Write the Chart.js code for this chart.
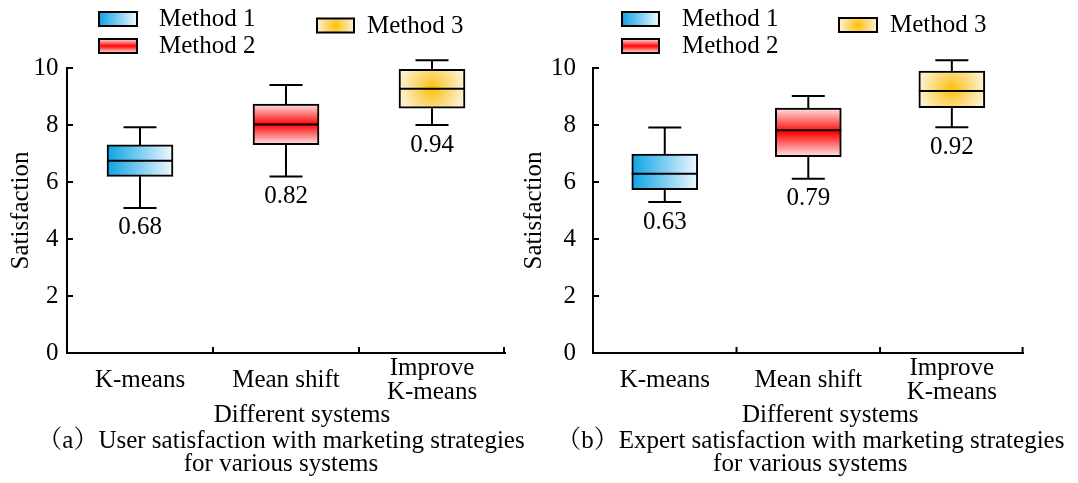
<!DOCTYPE html>
<html>
<head>
<meta charset="utf-8">
<script src="https://cdn.jsdelivr.net/npm/chart.js"></script>
<style>
  html, body { margin: 0; padding: 0; background: #ffffff; }
  #wrap { position: relative; width: 1078px; height: 483px; overflow: hidden; }
  .panel { position: absolute; top: 0; height: 483px; }
  #pa { left: 0; width: 539px; }
  #pb { left: 515px; width: 563px; }
</style>
</head>
<body>
<div id="wrap">
  <div class="panel" id="pa"><canvas id="chartA"></canvas></div>
  <div class="panel" id="pb"><canvas id="chartB"></canvas></div>
</div>
<script>
// Systems compared on the x axis and the legend names of their boxes
const categories = ['K-means', 'Mean shift', ['Improve', 'K-means']];
const methods = ['Method 1', 'Method 2', 'Method 3'];
const xAxisTitle = 'Different systems';
const yAxisTitle = 'Satisfaction';

// (a) user satisfaction: five-number summaries per system
const userMin    = [5.09, 6.19, 8.00];
const userQ1     = [6.20, 7.31, 8.59];
const userMedian = [6.75, 8.02, 9.27];
const userQ3     = [7.30, 8.73, 9.95];
const userMax    = [7.92, 9.40, 10.27];
const userScore  = ['0.68', '0.82', '0.94'];

// (b) expert satisfaction: five-number summaries per system
const expertMin    = [5.30, 6.11, 7.92];
const expertQ1     = [5.73, 6.89, 8.61];
const expertMedian = [6.29, 7.82, 9.19];
const expertQ3     = [6.98, 8.59, 9.89];
const expertMax    = [7.91, 9.02, 10.27];
const expertScore  = ['0.63', '0.79', '0.92'];

const captionA = ['\uFF08a\uFF09User satisfaction with marketing strategies', 'for various systems'];
const captionB = ['\uFF08b\uFF09Expert satisfaction with marketing strategies', 'for various systems'];

const SERIF = "'Liberation Serif', 'Times New Roman', 'Noto Serif CJK SC', 'Noto Sans CJK SC', serif";
const FONT_SIZE = 25;
const BOX_W = 66;
const CAP_W = 33;

// Gradient fill for each method's box / legend swatch
function makeFill(ctx, i, x, y, w, h) {
  let g;
  if (i === 0) {
    g = ctx.createLinearGradient(x, 0, x + w, 0);
    g.addColorStop(0, '#0fa3e4');
    g.addColorStop(0.5, '#7ccdf1');
    g.addColorStop(1, '#f0f9fe');
  } else if (i === 1) {
    g = ctx.createLinearGradient(0, y, 0, y + h);
    g.addColorStop(0, '#fde4e4');
    g.addColorStop(0.5, '#ff0505');
    g.addColorStop(1, '#fde8e8');
  } else {
    const cx = x + w / 2, cy = y + h / 2;
    g = ctx.createRadialGradient(cx, cy, 0, cx, cy, Math.max(w, h) / 2);
    g.addColorStop(0, '#ffbf00');
    g.addColorStop(0.35, '#fcd25a');
    g.addColorStop(1, '#fdf2d2');
  }
  return g;
}

function boxFill(c) {
  if (c.type !== 'data') return '#ffffff';
  const chart = c.chart;
  if (!chart.chartArea) return '#ffffff';
  const i = c.dataIndex, raw = c.raw;
  const xs = chart.scales.x, ys = chart.scales.y;
  const cx = xs.getPixelForValue(i);
  const yTop = ys.getPixelForValue(raw[1]);
  const yBot = ys.getPixelForValue(raw[0]);
  if (![cx, yTop, yBot].every(Number.isFinite)) return '#ffffff';
  return makeFill(chart.ctx, i, cx - BOX_W / 2, yTop, BOX_W, yBot - yTop);
}

function line(ctx, x1, y1, x2, y2) {
  ctx.beginPath();
  ctx.moveTo(x1, y1);
  ctx.lineTo(x2, y2);
  ctx.stroke();
}

// Whiskers, medians, score labels, inward ticks, legend, axis title and caption
function boxPlotPlugin(cfg) {
  return {
    id: 'boxPlotExtras',
    afterDatasetsDraw(chart) {
      const ctx = chart.ctx;
      const ys = chart.scales.y;
      const meta = chart.getDatasetMeta(0);
      ctx.save();
      ctx.strokeStyle = '#000';
      ctx.lineWidth = 2;
      ctx.fillStyle = '#000';
      ctx.font = FONT_SIZE + 'px ' + SERIF;
      ctx.textAlign = 'center';
      ctx.textBaseline = 'middle';
      meta.data.forEach((bar, i) => {
        const { x, width } = bar.getProps(['x', 'width'], true);
        const yMin = ys.getPixelForValue(cfg.min[i]);
        const yQ1 = ys.getPixelForValue(cfg.q1[i]);
        const yMed = ys.getPixelForValue(cfg.median[i]);
        const yQ3 = ys.getPixelForValue(cfg.q3[i]);
        const yMax = ys.getPixelForValue(cfg.max[i]);
        line(ctx, x, yQ3, x, yMax);
        line(ctx, x - CAP_W / 2, yMax, x + CAP_W / 2, yMax);
        line(ctx, x, yQ1, x, yMin);
        line(ctx, x - CAP_W / 2, yMin, x + CAP_W / 2, yMin);
        line(ctx, x - width / 2, yMed, x + width / 2, yMed);
        ctx.fillText(cfg.score[i], x, yMin + 20);
      });
      ctx.restore();
    },
    afterDraw(chart) {
      const ctx = chart.ctx;
      const area = chart.chartArea;
      const xs = chart.scales.x, ys = chart.scales.y;
      ctx.save();
      ctx.strokeStyle = '#000';
      ctx.lineWidth = 2;
      // inward tick marks on the y axis
      ys.ticks.forEach(t => {
        if (t.value === 0) return;
        const y = ys.getPixelForValue(t.value);
        line(ctx, area.left, y, area.left + 6, y);
      });
      // inward tick marks between systems and at the right end
      const n = categories.length;
      for (let i = 0; i < n - 1; i++) {
        const xb = (xs.getPixelForValue(i) + xs.getPixelForValue(i + 1)) / 2;
        line(ctx, xb, area.bottom, xb, area.bottom - 6);
      }
      line(ctx, area.right - 1, area.bottom, area.right - 1, area.bottom - 6);

      // legend
      ctx.font = FONT_SIZE + 'px ' + SERIF;
      ctx.fillStyle = '#000';
      ctx.textAlign = 'left';
      ctx.textBaseline = 'middle';
      methods.forEach((name, j) => {
        const L = cfg.legend[j];
        ctx.fillStyle = makeFill(ctx, j, L.x, L.y, L.w, L.h);
        ctx.fillRect(L.x, L.y, L.w, L.h);
        ctx.strokeRect(L.x, L.y, L.w, L.h);
        ctx.fillStyle = '#000';
        ctx.fillText(name, L.tx, L.y + L.h / 2 + 0.5);
      });

      // x axis title and caption below the axis
      ctx.textAlign = 'center';
      const mid = (area.left + area.right) / 2;
      ctx.fillText(xAxisTitle, mid + cfg.titleShift, 415);
      cfg.caption.forEach((txt, k) => {
        ctx.fillText(txt, mid + cfg.captionShift, 441 + k * 23.5);
      });
      ctx.restore();
    }
  };
}

function makePanel(canvasId, cfg) {
  return new Chart(document.getElementById(canvasId), {
    type: 'bar',
    data: {
      labels: categories,
      datasets: [{
        data: cfg.q1.map((v, i) => [v, cfg.q3[i]]),
        backgroundColor: boxFill,
        borderColor: '#000',
        borderWidth: 2,
        borderSkipped: false,
        barThickness: BOX_W,
        clip: false
      }]
    },
    options: {
      responsive: true,
      maintainAspectRatio: false,
      animation: false,
      events: [],
      layout: { padding: { top: 68, right: cfg.padRight, bottom: 55, left: 0 } },
      plugins: { legend: { display: false }, tooltip: { enabled: false }, title: { display: false } },
      scales: {
        x: {
          type: 'category',
          offset: true,
          grid: { display: false, drawTicks: false },
          border: { display: true, color: '#000', width: 2 },
          ticks: {
            color: '#000',
            font: { family: SERIF, size: FONT_SIZE, lineHeight: 0.96 },
            padding: 15,
            crossAlign: 'center',
            maxRotation: 0,
            minRotation: 0,
            autoSkip: false
          },
          title: { display: false },
          afterFit(s) { s.height = 75; }
        },
        y: {
          min: 0,
          max: 10,
          grid: { display: false, drawTicks: false },
          border: { display: true, color: '#000', width: 2 },
          ticks: {
            stepSize: 2,
            color: '#000',
            font: { family: SERIF, size: FONT_SIZE },
            padding: cfg.tickPad
          },
          title: {
            display: true,
            text: yAxisTitle,
            color: '#000',
            font: { family: SERIF, size: FONT_SIZE, lineHeight: 1 },
            padding: { top: cfg.titlePad, bottom: 0 }
          },
          afterFit(s) { s.width = cfg.axisWidth; }
        }
      }
    },
    plugins: [boxPlotPlugin(cfg)]
  });
}

makePanel('chartA', {
  min: userMin, q1: userQ1, median: userMedian, q3: userQ3, max: userMax,
  score: userScore, caption: captionA, captionShift: -5, titleShift: 16,
  axisWidth: 67, padRight: 34, tickPad: 8.5, titlePad: 8.5,
  legend: [
    { x: 99, y: 12, w: 38, h: 14, tx: 159 },
    { x: 99, y: 39, w: 38, h: 14, tx: 159 },
    { x: 317, y: 18.5, w: 37, h: 14, tx: 367 }
  ]
});

makePanel('chartB', {
  min: expertMin, q1: expertQ1, median: expertMedian, q3: expertQ3, max: expertMax,
  score: expertScore, caption: captionB, captionShift: 2, titleShift: 22,
  axisWidth: 78, padRight: 54.4, tickPad: 17, titlePad: 7,
  legend: [
    { x: 107, y: 12, w: 37, h: 14, tx: 167 },
    { x: 107, y: 39, w: 37, h: 14, tx: 167 },
    { x: 324, y: 18, w: 38, h: 14, tx: 375 }
  ]
});
</script>
</body>
</html>
